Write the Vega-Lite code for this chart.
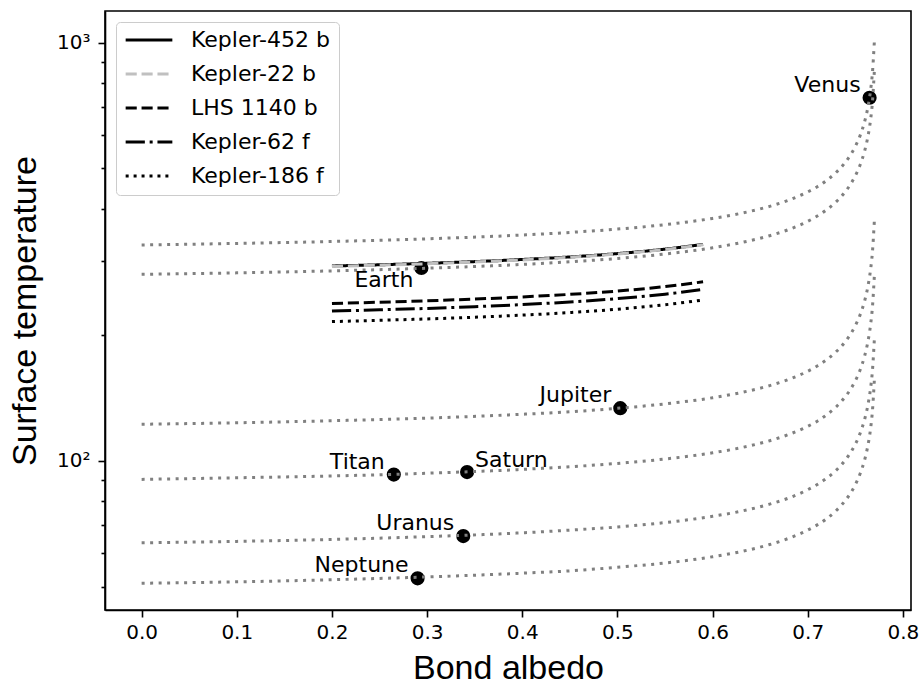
{
"$schema": "https://vega.github.io/schema/vega-lite/v6.json",
"width": 806, "height": 599,
"autosize": {"type": "none"},
"padding": {"left": 105, "top": 11, "right": 10, "bottom": 74},
"background": "white",
"config": {
  "view": {"stroke": "black", "strokeWidth": 1.6},
  "axis": {"domainColor": "black", "domainWidth": 1.6, "tickColor": "black", "tickWidth": 1.6, "labelFont": "DejaVu Sans", "labelFontSize": 20, "labelColor": "black", "titleFont": "Liberation Sans", "titleFontSize": 34, "titleFontWeight": "normal", "titleColor": "black", "grid": false},
  "legend": {"orient": "top-left", "offset": 11, "padding": 8, "strokeColor": "#cccccc", "fillColor": "rgba(255,255,255,0.8)", "cornerRadius": 4, "labelFont": "DejaVu Sans", "labelFontSize": 22, "labelColor": "black", "symbolSize": 2180, "symbolStrokeWidth": 3, "symbolType": "stroke", "clipHeight": 20, "rowPadding": 12, "labelOffset": 17}
},
"datasets": {
  "planets": [
    {"name": "Venus", "A": 0.765, "T": 738},
    {"name": "Earth", "A": 0.294, "T": 289},
    {"name": "Jupiter", "A": 0.503, "T": 133.5},
    {"name": "Saturn", "A": 0.342, "T": 93.9},
    {"name": "Titan", "A": 0.265, "T": 92.6},
    {"name": "Uranus", "A": 0.338, "T": 66.0},
    {"name": "Neptune", "A": 0.29, "T": 52.3}
  ],
  "curves": [
    {"name":"Venus","A":0,"T":328},{"name":"Venus","A":0.1,"T":330.8},{"name":"Venus","A":0.2,"T":334.4},{"name":"Venus","A":0.3,"T":339.3},{"name":"Venus","A":0.4,"T":346.5},{"name":"Venus","A":0.45,"T":351.5},{"name":"Venus","A":0.5,"T":358.0},{"name":"Venus","A":0.55,"T":366.9},{"name":"Venus","A":0.6,"T":379.7},{"name":"Venus","A":0.63,"T":390.6},{"name":"Venus","A":0.66,"T":405.8},{"name":"Venus","A":0.68,"T":419.9},{"name":"Venus","A":0.7,"T":439.3},{"name":"Venus","A":0.71,"T":452.1},{"name":"Venus","A":0.72,"T":468.4},{"name":"Venus","A":0.73,"T":489.6},{"name":"Venus","A":0.74,"T":519.1},{"name":"Venus","A":0.745,"T":539.0},{"name":"Venus","A":0.75,"T":564.5},{"name":"Venus","A":0.755,"T":599.1},{"name":"Venus","A":0.76,"T":650.2},{"name":"Venus","A":0.763,"T":696.4},{"name":"Venus","A":0.766,"T":768.4},{"name":"Venus","A":0.768,"T":848.5},{"name":"Venus","A":0.77,"T":1006.9},
    {"name":"Earth","A":0,"T":279},{"name":"Earth","A":0.1,"T":281.3},{"name":"Earth","A":0.2,"T":284.4},{"name":"Earth","A":0.3,"T":288.6},{"name":"Earth","A":0.4,"T":294.7},{"name":"Earth","A":0.45,"T":299.0},{"name":"Earth","A":0.5,"T":304.5},{"name":"Earth","A":0.55,"T":312.1},{"name":"Earth","A":0.6,"T":322.9},{"name":"Earth","A":0.63,"T":332.3},{"name":"Earth","A":0.66,"T":345.2},{"name":"Earth","A":0.68,"T":357.1},{"name":"Earth","A":0.7,"T":373.6},{"name":"Earth","A":0.71,"T":384.6},{"name":"Earth","A":0.72,"T":398.4},{"name":"Earth","A":0.73,"T":416.4},{"name":"Earth","A":0.74,"T":441.5},{"name":"Earth","A":0.745,"T":458.5},{"name":"Earth","A":0.75,"T":480.2},{"name":"Earth","A":0.755,"T":509.6},{"name":"Earth","A":0.76,"T":553.1},{"name":"Earth","A":0.763,"T":592.4},{"name":"Earth","A":0.766,"T":653.6},{"name":"Earth","A":0.768,"T":721.8},{"name":"Earth","A":0.77,"T":856.4},
    {"name":"Jupiter","A":0,"T":122.2},{"name":"Jupiter","A":0.1,"T":123.2},{"name":"Jupiter","A":0.2,"T":124.6},{"name":"Jupiter","A":0.3,"T":126.4},{"name":"Jupiter","A":0.4,"T":129.1},{"name":"Jupiter","A":0.45,"T":130.9},{"name":"Jupiter","A":0.5,"T":133.4},{"name":"Jupiter","A":0.55,"T":136.7},{"name":"Jupiter","A":0.6,"T":141.4},{"name":"Jupiter","A":0.63,"T":145.5},{"name":"Jupiter","A":0.66,"T":151.2},{"name":"Jupiter","A":0.68,"T":156.4},{"name":"Jupiter","A":0.7,"T":163.6},{"name":"Jupiter","A":0.71,"T":168.5},{"name":"Jupiter","A":0.72,"T":174.5},{"name":"Jupiter","A":0.73,"T":182.4},{"name":"Jupiter","A":0.74,"T":193.4},{"name":"Jupiter","A":0.745,"T":200.8},{"name":"Jupiter","A":0.75,"T":210.3},{"name":"Jupiter","A":0.755,"T":223.2},{"name":"Jupiter","A":0.76,"T":242.2},{"name":"Jupiter","A":0.763,"T":259.5},{"name":"Jupiter","A":0.766,"T":286.3},{"name":"Jupiter","A":0.768,"T":316.1},{"name":"Jupiter","A":0.77,"T":375.1},
    {"name":"Saturn","A":0,"T":90.2},{"name":"Saturn","A":0.1,"T":91.0},{"name":"Saturn","A":0.2,"T":91.9},{"name":"Saturn","A":0.3,"T":93.3},{"name":"Saturn","A":0.4,"T":95.3},{"name":"Saturn","A":0.45,"T":96.7},{"name":"Saturn","A":0.5,"T":98.5},{"name":"Saturn","A":0.55,"T":100.9},{"name":"Saturn","A":0.6,"T":104.4},{"name":"Saturn","A":0.63,"T":107.4},{"name":"Saturn","A":0.66,"T":111.6},{"name":"Saturn","A":0.68,"T":115.5},{"name":"Saturn","A":0.7,"T":120.8},{"name":"Saturn","A":0.71,"T":124.3},{"name":"Saturn","A":0.72,"T":128.8},{"name":"Saturn","A":0.73,"T":134.6},{"name":"Saturn","A":0.74,"T":142.8},{"name":"Saturn","A":0.745,"T":148.2},{"name":"Saturn","A":0.75,"T":155.2},{"name":"Saturn","A":0.755,"T":164.7},{"name":"Saturn","A":0.76,"T":178.8},{"name":"Saturn","A":0.763,"T":191.5},{"name":"Saturn","A":0.766,"T":211.3},{"name":"Saturn","A":0.768,"T":233.3},{"name":"Saturn","A":0.77,"T":276.9},
    {"name":"Uranus","A":0,"T":63.6},{"name":"Uranus","A":0.1,"T":64.1},{"name":"Uranus","A":0.2,"T":64.8},{"name":"Uranus","A":0.3,"T":65.8},{"name":"Uranus","A":0.4,"T":67.2},{"name":"Uranus","A":0.45,"T":68.2},{"name":"Uranus","A":0.5,"T":69.4},{"name":"Uranus","A":0.55,"T":71.1},{"name":"Uranus","A":0.6,"T":73.6},{"name":"Uranus","A":0.63,"T":75.7},{"name":"Uranus","A":0.66,"T":78.7},{"name":"Uranus","A":0.68,"T":81.4},{"name":"Uranus","A":0.7,"T":85.2},{"name":"Uranus","A":0.71,"T":87.7},{"name":"Uranus","A":0.72,"T":90.8},{"name":"Uranus","A":0.73,"T":94.9},{"name":"Uranus","A":0.74,"T":100.7},{"name":"Uranus","A":0.745,"T":104.5},{"name":"Uranus","A":0.75,"T":109.5},{"name":"Uranus","A":0.755,"T":116.2},{"name":"Uranus","A":0.76,"T":126.1},{"name":"Uranus","A":0.763,"T":135.0},{"name":"Uranus","A":0.766,"T":149.0},{"name":"Uranus","A":0.768,"T":164.5},{"name":"Uranus","A":0.77,"T":195.2},
    {"name":"Neptune","A":0,"T":50.9},{"name":"Neptune","A":0.1,"T":51.3},{"name":"Neptune","A":0.2,"T":51.9},{"name":"Neptune","A":0.3,"T":52.7},{"name":"Neptune","A":0.4,"T":53.8},{"name":"Neptune","A":0.45,"T":54.5},{"name":"Neptune","A":0.5,"T":55.6},{"name":"Neptune","A":0.55,"T":56.9},{"name":"Neptune","A":0.6,"T":58.9},{"name":"Neptune","A":0.63,"T":60.6},{"name":"Neptune","A":0.66,"T":63.0},{"name":"Neptune","A":0.68,"T":65.2},{"name":"Neptune","A":0.7,"T":68.2},{"name":"Neptune","A":0.71,"T":70.2},{"name":"Neptune","A":0.72,"T":72.7},{"name":"Neptune","A":0.73,"T":76.0},{"name":"Neptune","A":0.74,"T":80.6},{"name":"Neptune","A":0.745,"T":83.6},{"name":"Neptune","A":0.75,"T":87.6},{"name":"Neptune","A":0.755,"T":93.0},{"name":"Neptune","A":0.76,"T":100.9},{"name":"Neptune","A":0.763,"T":108.1},{"name":"Neptune","A":0.766,"T":119.2},{"name":"Neptune","A":0.768,"T":131.7},{"name":"Neptune","A":0.77,"T":156.2}
  ],
  "exo": [
    {"name":"Kepler-452 b","A":0.2,"T":292.2},{"name":"Kepler-452 b","A":0.25,"T":294.1},{"name":"Kepler-452 b","A":0.3,"T":296.5},{"name":"Kepler-452 b","A":0.35,"T":299.3},{"name":"Kepler-452 b","A":0.4,"T":302.8},{"name":"Kepler-452 b","A":0.45,"T":307.1},{"name":"Kepler-452 b","A":0.5,"T":312.8},{"name":"Kepler-452 b","A":0.55,"T":320.6},{"name":"Kepler-452 b","A":0.59,"T":329.1},
    {"name":"Kepler-22 b","A":0.2,"T":291.5},{"name":"Kepler-22 b","A":0.25,"T":293.5},{"name":"Kepler-22 b","A":0.3,"T":295.8},{"name":"Kepler-22 b","A":0.35,"T":298.7},{"name":"Kepler-22 b","A":0.4,"T":302.1},{"name":"Kepler-22 b","A":0.45,"T":306.5},{"name":"Kepler-22 b","A":0.5,"T":312.2},{"name":"Kepler-22 b","A":0.55,"T":319.9},{"name":"Kepler-22 b","A":0.59,"T":328.4},
    {"name":"LHS 1140 b","A":0.2,"T":237.7},{"name":"LHS 1140 b","A":0.25,"T":239.3},{"name":"LHS 1140 b","A":0.3,"T":241.2},{"name":"LHS 1140 b","A":0.35,"T":243.5},{"name":"LHS 1140 b","A":0.4,"T":246.4},{"name":"LHS 1140 b","A":0.45,"T":249.9},{"name":"LHS 1140 b","A":0.5,"T":254.5},{"name":"LHS 1140 b","A":0.55,"T":260.8},{"name":"LHS 1140 b","A":0.59,"T":267.8},
    {"name":"Kepler-62 f","A":0.2,"T":227.9},{"name":"Kepler-62 f","A":0.25,"T":229.5},{"name":"Kepler-62 f","A":0.3,"T":231.3},{"name":"Kepler-62 f","A":0.35,"T":233.5},{"name":"Kepler-62 f","A":0.4,"T":236.2},{"name":"Kepler-62 f","A":0.45,"T":239.6},{"name":"Kepler-62 f","A":0.5,"T":244.1},{"name":"Kepler-62 f","A":0.55,"T":250.1},{"name":"Kepler-62 f","A":0.59,"T":256.8},
    {"name":"Kepler-186 f","A":0.2,"T":215.1},{"name":"Kepler-186 f","A":0.25,"T":216.6},{"name":"Kepler-186 f","A":0.3,"T":218.3},{"name":"Kepler-186 f","A":0.35,"T":220.3},{"name":"Kepler-186 f","A":0.4,"T":222.9},{"name":"Kepler-186 f","A":0.45,"T":226.1},{"name":"Kepler-186 f","A":0.5,"T":230.3},{"name":"Kepler-186 f","A":0.55,"T":236.0},{"name":"Kepler-186 f","A":0.59,"T":242.3}
  ]
},
"encoding": {
  "x": {"field": "A", "type": "quantitative", "scale": {"domain": [-0.0385, 0.8085], "nice": false, "zero": false},
        "axis": {"values": [0, 0.1, 0.2, 0.3, 0.4, 0.5, 0.6, 0.7, 0.8], "format": ".1f", "tickSize": 7, "labelPadding": 5, "title": "Bond albedo", "titlePadding": 9}},
  "y": {"field": "T", "type": "quantitative", "scale": {"type": "log", "domain": [43.93, 1190], "nice": false},
        "axis": {"values": [50, 60, 70, 80, 90, 100, 200, 300, 400, 500, 600, 700, 800, 900, 1000],
                 "labelExpr": "datum.value == 100 ? '10²' : (datum.value == 1000 ? '10³' : '')",
                 "tickSize": {"condition": {"test": "datum.value == 100 || datum.value == 1000", "value": 7}, "value": 4},
                 "labelPadding": 8, "labelOverlap": false, "title": "Surface temperature", "titlePadding": 14}}
},
"layer": [
  {"data": {"name": "planets"}, "mark": {"type": "circle", "size": 200, "color": "black", "opacity": 1}, "encoding": {}},
  {"data": {"name": "curves"}, "mark": {"type": "line", "stroke": "#808080", "strokeWidth": 3, "strokeDash": [3, 5.5], "interpolate": "monotone"},
   "encoding": {"detail": {"field": "name", "type": "nominal"}}},
  {"data": {"name": "exo"}, "mark": {"type": "line", "strokeWidth": 3, "interpolate": "monotone"},
   "encoding": {
     "color": {"field": "name", "type": "nominal", "title": null, "sort": ["Kepler-452 b", "Kepler-22 b", "LHS 1140 b", "Kepler-62 f", "Kepler-186 f"],
               "scale": {"domain": ["Kepler-452 b", "Kepler-22 b", "LHS 1140 b", "Kepler-62 f", "Kepler-186 f"], "range": ["black", "#c0c0c0", "black", "black", "black"]}},
     "strokeDash": {"field": "name", "type": "nominal", "title": null, "sort": ["Kepler-452 b", "Kepler-22 b", "LHS 1140 b", "Kepler-62 f", "Kepler-186 f"],
               "scale": {"domain": ["Kepler-452 b", "Kepler-22 b", "LHS 1140 b", "Kepler-62 f", "Kepler-186 f"], "range": [[1, 0], [11.1, 4.8], [11.1, 4.8], [19.2, 4.8, 3, 4.8], [3, 4.95]]}}
   }},
  {"data": {"name": "planets"}, "transform": [{"filter": "indexof(['Venus','Jupiter','Titan','Uranus','Neptune'], datum.name) >= 0"}],
   "mark": {"type": "text", "align": "right", "baseline": "alphabetic", "dx": -9, "dy": -6, "font": "DejaVu Sans", "fontSize": 22, "color": "black"},
   "encoding": {"text": {"field": "name"}}},
  {"data": {"name": "planets"}, "transform": [{"filter": "datum.name == 'Saturn'"}],
   "mark": {"type": "text", "align": "left", "baseline": "alphabetic", "dx": 8, "dy": -5, "font": "DejaVu Sans", "fontSize": 22, "color": "black"},
   "encoding": {"text": {"field": "name"}}},
  {"data": {"name": "planets"}, "transform": [{"filter": "datum.name == 'Earth'"}],
   "mark": {"type": "text", "align": "right", "baseline": "alphabetic", "dx": -8, "dy": 19, "font": "DejaVu Sans", "fontSize": 22, "color": "black"},
   "encoding": {"text": {"field": "name"}}}
]
}
